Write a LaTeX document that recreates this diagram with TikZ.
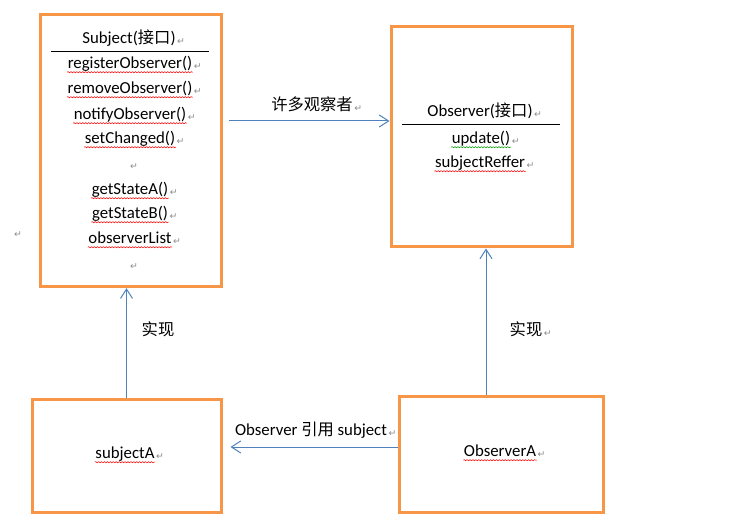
\documentclass[tikz,border=0pt]{standalone}
\usepackage{fontspec}
\setmainfont{Carlito}
\newfontfamily\zhfont{Noto Sans CJK SC}[Scale=0.97]
\newfontfamily\pmfont{DejaVu Sans}
\usetikzlibrary{arrows.meta,decorations.pathmorphing}
\definecolor{boxorange}{HTML}{F79646}
\definecolor{linkblue}{HTML}{4F81BD}
\definecolor{pmgray}{HTML}{8C8C8C}

\begin{document}
\begin{tikzpicture}[x=0.75pt,y=-0.75pt,
        box/.style={draw=boxorange,line width=2.25pt,inner sep=0pt},
        item/.style={font=\fontsize{12.6}{15}\selectfont,inner sep=0.5pt,text height=9pt,text depth=3.4pt},
        pmark/.style={font=\pmfont\fontsize{7}{8}\selectfont,text=pmgray,inner sep=0pt,yshift=-1.4pt},
        ret/.style={label={[pmark,xshift=0.3pt]right:↵}},
        squiggle/.style={path picture={\draw[#1,line width=0.4pt,decorate,decoration={snake,amplitude=0.45pt,segment length=2.2pt}]
            ([yshift=1.3pt]path picture bounding box.south west) -- ([yshift=1.3pt]path picture bounding box.south east);}},
        typo/.style={squiggle=red},
        grammar/.style={squiggle=green!60!black},
        rule/.style={draw=black,line width=0.75pt},
        link/.style={draw=linkblue,line width=0.75pt,-{Straight Barb[length=7pt,width=9pt]}}]
        % page frame
        \useasboundingbox (0,0) rectangle (732,520);

        % the four classes
        \node[box,minimum width=135.75pt,minimum height=204pt] (subject) at (130.5,150.7) {};
        \node[box,minimum width=135.75pt,minimum height=165pt] (observer) at (481.5,137) {};
        \node[box,minimum width=141.75pt,minimum height=84.75pt] (subjA) at (126.5,455.5) {};
        \node[box,minimum width=153pt,minimum height=87pt] (obsA) at (501,454) {};

        % Subject members
        \node[item,ret] (subjTitle) at (129,40) {Subject({\zhfont 接口})};
        \draw[rule] (51,52) -- (209,52);
        \node[item,ret,typo] (regObs) at (130,65) {registerObserver()};
        \node[item,ret,typo] (remObs) at (130,90) {removeObserver()};
        \node[item,ret,typo] (notObs) at (130,116) {notifyObserver()};
        \node[item,ret,typo] (setChg) at (130,140) {setChanged()};
        \node[pmark] (blankA) at (134,165) {↵};
        \node[item,ret,typo] (getA) at (130,191) {getStateA()};
        \node[item,ret,typo] (getB) at (130,215) {getStateB()};
        \node[item,ret,typo] (obsList) at (130,240) {observerList};
        \node[pmark] (blankB) at (134,265) {↵};

        % Observer members
        \node[item,ret] (obsTitle) at (480,113) {Observer({\zhfont 接口})};
        \draw[rule] (402,125) -- (560,125);
        \node[item,ret,grammar] (update) at (481,140) {update()};
        \node[item,ret,typo] (subjRef) at (480,164) {subjectReffer};

        % implementations
        \node[item,ret,typo] (subjAName) at (125,455) {subjectA};
        \node[item,ret,typo] (obsAName) at (500,453) {ObserverA};

        % stray paragraph mark
        \node[pmark] (blankC) at (18,233) {↵};

        % Subject -> Observer
        \coordinate (many) at (0,121);
        \draw[link,shorten <=4.5pt] (subject.east |- many) -- (observer.west |- many);
        \node[item,ret] (manyLabel) at (312,107) {\zhfont 许多观察者};

        % subjectA realises Subject
        \draw[link] (subjA.north) -- (subjA.north |- subject.south);
        \node[item] (realLabelA) at (158,332) {\zhfont 实现};

        % ObserverA realises Observer
        \coordinate (realise) at (486,0);
        \draw[link] (obsA.north -| realise) -- (observer.south -| realise);
        \node[item,ret] (realLabelB) at (526,332) {\zhfont 实现};

        % ObserverA refers to subjectA
        \coordinate (refers) at (0,447);
        \draw[link,shorten >=6pt] (obsA.west |- refers) -- (subjA.east |- refers);
        \node[item,ret] (refLabel) at (311,432) {Observer {\zhfont 引用} subject};
    \end{tikzpicture}
\end{document}
